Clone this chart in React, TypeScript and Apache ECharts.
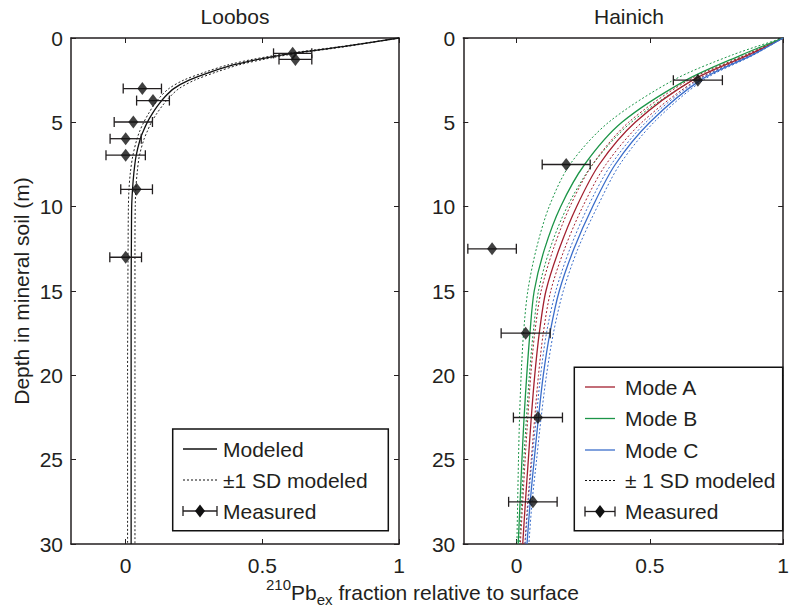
import React, { useEffect, useRef } from "react";
import * as echarts from "echarts";

// ---------- Loobos (left panel) ----------
const loobosDepths = [0, 0.5, 0.9, 1.25, 1.6, 2, 2.5, 3, 3.5, 4, 4.5, 5, 5.5, 6, 7, 8, 9, 10, 12, 15, 20, 30];
const loobosModel = [1, 0.8, 0.615, 0.49, 0.393, 0.315, 0.232, 0.176, 0.143, 0.118, 0.097, 0.079, 0.065, 0.053, 0.038, 0.03, 0.025, 0.022, 0.021, 0.02, 0.02, 0.02];
const loobosLow = [1, 0.79, 0.6, 0.47, 0.373, 0.295, 0.212, 0.158, 0.126, 0.102, 0.083, 0.066, 0.052, 0.041, 0.026, 0.017, 0.012, 0.01, 0.009, 0.008, 0.007, 0.007];
const loobosHigh = [1, 0.81, 0.63, 0.51, 0.413, 0.335, 0.252, 0.195, 0.161, 0.135, 0.113, 0.094, 0.08, 0.067, 0.05, 0.042, 0.037, 0.035, 0.034, 0.034, 0.034, 0.034];
const loobosMeasDepth = [0.91, 1.27, 3.0, 3.71, 4.98, 5.97, 6.95, 8.97, 13.0];
const loobosMeasX = [0.611, 0.621, 0.061, 0.1, 0.028, 0, 0, 0.04, 0];
const loobosMeasErr = [0.07, 0.06, 0.07, 0.06, 0.07, 0.057, 0.072, 0.058, 0.058];

// ---------- Hainich (right panel) ----------
const hainichDepths = [0, 1, 2.5, 5, 7.5, 10, 12.5, 15, 17.5, 20, 22.5, 25, 27.5, 30];
const modeA = [1, 0.87, 0.66, 0.445, 0.31, 0.225, 0.16, 0.11, 0.085, 0.068, 0.055, 0.044, 0.033, 0.023];
const modeALow = [1, 0.86, 0.645, 0.42, 0.285, 0.2, 0.138, 0.092, 0.068, 0.053, 0.042, 0.032, 0.023, 0.014];
const modeAHigh = [1, 0.878, 0.675, 0.47, 0.335, 0.248, 0.18, 0.128, 0.1, 0.082, 0.068, 0.055, 0.042, 0.031];
const modeB = [1, 0.845, 0.636, 0.395, 0.255, 0.165, 0.105, 0.066, 0.05, 0.038, 0.028, 0.02, 0.013, 0.006];
const modeBLow = [1, 0.81, 0.588, 0.345, 0.2, 0.122, 0.074, 0.042, 0.026, 0.017, 0.011, 0.007, 0.004, 0.001];
const modeBHigh = [1, 0.86, 0.66, 0.43, 0.285, 0.19, 0.125, 0.082, 0.062, 0.048, 0.037, 0.027, 0.019, 0.011];
const modeC = [1, 0.885, 0.69, 0.5, 0.37, 0.285, 0.215, 0.16, 0.125, 0.1, 0.082, 0.066, 0.051, 0.039];
const modeCLow = [1, 0.88, 0.68, 0.485, 0.355, 0.268, 0.2, 0.147, 0.112, 0.09, 0.074, 0.058, 0.044, 0.032];
const modeCHigh = [1, 0.89, 0.7, 0.515, 0.387, 0.303, 0.23, 0.175, 0.138, 0.112, 0.092, 0.075, 0.058, 0.046];
const hainichMeasDepth = [2.5, 7.5, 12.5, 17.5, 22.5, 27.5];
const hainichMeasX = [0.68, 0.186, -0.092, 0.034, 0.08, 0.061];
const hainichMeasErr = [0.092, 0.09, 0.091, 0.092, 0.092, 0.091];

// ---------- axis ticks / labels ----------
const xTicks = [0, 0.5, 1];
const yMin = 0, yMax = 30, yStep = 5;
const xMin = -0.2, xMax = 1;

const panelTitles = ["Loobos", "Hainich"];
const yAxisTitle = "Depth in mineral soil (m)";
const leftLegendLabels = ["Modeled", "\u00b11 SD modeled", "Measured"];
const rightLegendLabels = ["Mode A", "Mode B", "Mode C", "\u00b1 1 SD modeled", "Measured"];

const FONT = "'Liberation Sans', Arial, Helvetica, sans-serif";
const FS = 21;
const INK = "#231f20";
const RED = "#a3202f";
const GREEN = "#1c9548";
const BLUE = "#3b6ecb";

const pairs = (xs: number[], ds: number[]) => xs.map((x, i) => [x, ds[i]]);

function lineSeries(name: string, xs: number[], ds: number[], color: string, dotted: boolean, ai: number) {
  return {
    name,
    type: "line",
    xAxisIndex: ai,
    yAxisIndex: ai,
    data: pairs(xs, ds),
    showSymbol: false,
    smooth: 0.3,
    silent: true,
    z: dotted ? 2 : 3,
    lineStyle: { color, width: dotted ? 1 : 1.3, type: dotted ? [2, 2] : "solid" },
  };
}

function errSeries(xs: number[], ds: number[], es: number[], ai: number) {
  return {
    type: "custom",
    xAxisIndex: ai,
    yAxisIndex: ai,
    silent: true,
    z: 5,
    encode: { x: 0, y: 1 },
    data: xs.map((x, i) => [x, ds[i], es[i]]),
    renderItem: (params: any, api: any) => {
      const x = api.value(0), d = api.value(1), e = api.value(2);
      const p0 = api.coord([x - e, d]);
      const p1 = api.coord([x + e, d]);
      const h = 5;
      const st = { stroke: INK, lineWidth: 1.3 };
      return {
        type: "group",
        children: [
          { type: "line", shape: { x1: p0[0], y1: p0[1], x2: p1[0], y2: p1[1] }, style: st },
          { type: "line", shape: { x1: p0[0], y1: p0[1] - h, x2: p0[0], y2: p0[1] + h }, style: st },
          { type: "line", shape: { x1: p1[0], y1: p1[1] - h, x2: p1[0], y2: p1[1] + h }, style: st },
        ],
      };
    },
  };
}

function diamondSeries(xs: number[], ds: number[], ai: number) {
  return {
    type: "scatter",
    xAxisIndex: ai,
    yAxisIndex: ai,
    silent: true,
    z: 6,
    symbol: "diamond",
    symbolSize: [10, 13],
    itemStyle: { color: "#111" },
    data: pairs(xs, ds),
  };
}

const axisLineStyle = { color: INK, width: 1.5 };

function xAxisPair(grid: number) {
  const base = {
    gridIndex: grid,
    type: "value",
    min: xMin,
    max: xMax,
    splitLine: { show: false },
    axisLine: { show: true, onZero: false, lineStyle: axisLineStyle },
    axisTick: { show: true, inside: true, length: 5, customValues: xTicks, lineStyle: { color: INK, width: 1 } },
  };
  return [
    {
      ...base,
      position: "bottom",
      axisLabel: { show: true, customValues: xTicks, fontSize: FS, color: INK, fontFamily: FONT, margin: 11 },
    },
    { ...base, position: "top", axisLabel: { show: false } },
  ];
}

function yAxisPair(grid: number) {
  const base = {
    gridIndex: grid,
    type: "value",
    min: yMin,
    max: yMax,
    interval: yStep,
    inverse: true,
    splitLine: { show: false },
    axisLine: { show: true, onZero: false, lineStyle: axisLineStyle },
    axisTick: { show: true, inside: true, length: 5, lineStyle: { color: INK, width: 1 } },
  };
  return [
    {
      ...base,
      position: "left",
      axisLabel: { show: true, fontSize: FS, color: INK, fontFamily: FONT, margin: 8 },
    },
    { ...base, position: "right", axisLabel: { show: false } },
  ];
}

function legendGraphics(
  box: { x: number; y: number; w: number; h: number },
  rows: number[],
  x1: number,
  x2: number,
  tx: number,
  items: { label: string; kind: "solid" | "dotted" | "meas"; color: string }[]
) {
  const els: any[] = [
    {
      type: "rect",
      shape: { x: box.x, y: box.y, width: box.w, height: box.h },
      style: { fill: "#fff", stroke: "#111", lineWidth: 1.5 },
      z: 100,
    },
  ];
  items.forEach((it, i) => {
    const y = rows[i];
    if (it.kind === "meas") {
      const c = (x1 + x2) / 2;
      els.push({ type: "line", shape: { x1, y1: y, x2, y2: y }, style: { stroke: INK, lineWidth: 1.3 }, z: 101 });
      els.push({ type: "line", shape: { x1, y1: y - 5, x2: x1, y2: y + 5 }, style: { stroke: INK, lineWidth: 1.3 }, z: 101 });
      els.push({ type: "line", shape: { x1: x2, y1: y - 5, x2, y2: y + 5 }, style: { stroke: INK, lineWidth: 1.3 }, z: 101 });
      els.push({
        type: "polygon",
        shape: { points: [[c, y - 6.5], [c + 5, y], [c, y + 6.5], [c - 5, y]] },
        style: { fill: "#111" },
        z: 102,
      });
    } else {
      els.push({
        type: "line",
        shape: { x1, y1: y, x2, y2: y },
        style: {
          stroke: it.color,
          lineWidth: it.kind === "dotted" ? 1 : 1.3,
          lineDash: it.kind === "dotted" ? [2, 2] : null,
        },
        z: 101,
      });
    }
    els.push({
      type: "text",
      x: tx,
      y,
      z: 101,
      style: { text: it.label, fontSize: FS, fontFamily: FONT, fill: INK, textAlign: "left", textVerticalAlign: "middle" },
    });
  });
  return els;
}

export default function App() {
  const ref = useRef<HTMLDivElement>(null);
  useEffect(() => {
    if (!ref.current) return;
    const chart = echarts.init(ref.current, undefined, { renderer: "svg" });

    const graphic: any[] = [
      {
        type: "text",
        x: 235,
        y: 16,
        style: { text: panelTitles[0], fontSize: FS, fontFamily: FONT, fill: INK, textAlign: "center", textVerticalAlign: "middle" },
      },
      {
        type: "text",
        x: 629,
        y: 16,
        style: { text: panelTitles[1], fontSize: FS, fontFamily: FONT, fill: INK, textAlign: "center", textVerticalAlign: "middle" },
      },
      {
        type: "text",
        x: 21,
        y: 291,
        rotation: Math.PI / 2,
        style: { text: yAxisTitle, fontSize: FS, fontFamily: FONT, fill: INK, textAlign: "center", textVerticalAlign: "middle" },
      },
      {
        type: "text",
        x: 266,
        y: 592,
        style: {
          text: "{sup|210}{n|Pb}{sub|ex}{n| fraction relative to surface}",
          fontFamily: FONT,
          fill: INK,
          textAlign: "left",
          textVerticalAlign: "middle",
          rich: {
            sup: { fontSize: 15, fontFamily: FONT, fill: INK, verticalAlign: "top", lineHeight: 15 },
            n: { fontSize: FS, fontFamily: FONT, fill: INK, verticalAlign: "middle", lineHeight: 30 },
            sub: { fontSize: 15, fontFamily: FONT, fill: INK, verticalAlign: "bottom", lineHeight: 15 },
          },
        },
      },
      ...legendGraphics({ x: 172.7, y: 429, w: 215.6, h: 101.7 }, [449, 480, 511], 183, 217, 223, [
        { label: leftLegendLabels[0], kind: "solid", color: "#111" },
        { label: leftLegendLabels[1], kind: "dotted", color: "#111" },
        { label: leftLegendLabels[2], kind: "meas", color: INK },
      ]),
      ...legendGraphics({ x: 574.3, y: 367.3, w: 208.4, h: 163.4 }, [387, 418.5, 450, 480.5, 511.5], 585, 615, 625, [
        { label: rightLegendLabels[0], kind: "solid", color: RED },
        { label: rightLegendLabels[1], kind: "solid", color: GREEN },
        { label: rightLegendLabels[2], kind: "solid", color: BLUE },
        { label: rightLegendLabels[3], kind: "dotted", color: "#111" },
        { label: rightLegendLabels[4], kind: "meas", color: INK },
      ]),
    ];

    const option: any = {
      animation: false,
      backgroundColor: "#fff",
      grid: [
        { left: 71, top: 38, width: 328, height: 506 },
        { left: 463.3, top: 38, width: 327.5, height: 506 },
      ],
      xAxis: [...xAxisPair(0), ...xAxisPair(1)],
      yAxis: [...yAxisPair(0), ...yAxisPair(1)],
      series: [
        lineSeries("Loobos low", loobosLow, loobosDepths, "#222", true, 0),
        lineSeries("Loobos high", loobosHigh, loobosDepths, "#222", true, 0),
        lineSeries("Modeled", loobosModel, loobosDepths, "#111", false, 0),
        errSeries(loobosMeasX, loobosMeasDepth, loobosMeasErr, 0),
        diamondSeries(loobosMeasX, loobosMeasDepth, 0),

        lineSeries("Mode B low", modeBLow, hainichDepths, GREEN, true, 2),
        lineSeries("Mode B high", modeBHigh, hainichDepths, GREEN, true, 2),
        lineSeries("Mode A low", modeALow, hainichDepths, RED, true, 2),
        lineSeries("Mode A high", modeAHigh, hainichDepths, RED, true, 2),
        lineSeries("Mode C low", modeCLow, hainichDepths, BLUE, true, 2),
        lineSeries("Mode C high", modeCHigh, hainichDepths, BLUE, true, 2),
        lineSeries("Mode A", modeA, hainichDepths, RED, false, 2),
        lineSeries("Mode B", modeB, hainichDepths, GREEN, false, 2),
        lineSeries("Mode C", modeC, hainichDepths, BLUE, false, 2),
        errSeries(hainichMeasX, hainichMeasDepth, hainichMeasErr, 2),
        diamondSeries(hainichMeasX, hainichMeasDepth, 2),
      ],
      graphic,
    };
    chart.setOption(option);
    return () => chart.dispose();
  }, []);
  return <div ref={ref} style={{ position: "fixed", left: 0, top: 0, width: 792, height: 609 }} />;
}
